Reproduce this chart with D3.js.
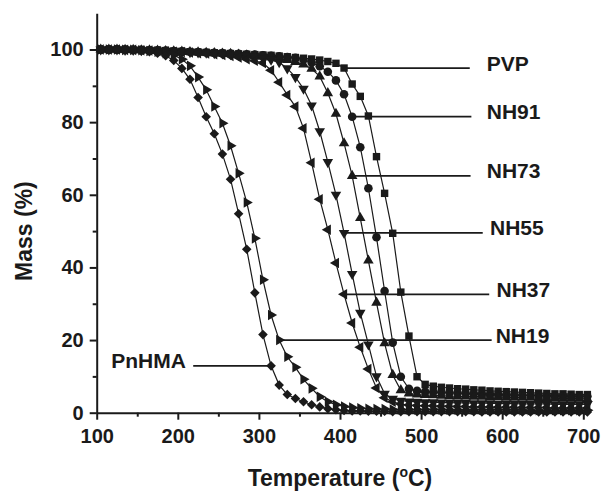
<!DOCTYPE html>
<html>
<head>
<meta charset="utf-8">
<script src="https://cdn.jsdelivr.net/npm/d3@7/dist/d3.min.js"></script>
<style>
body { margin: 0; background: #fff; }
svg text { font-family: "Liberation Sans", Arial, sans-serif; font-weight: bold; fill: #1a1a1a; }
</style>
</head>
<body>
<div id="tga-chart"></div>
<script>
// temperature of every recorded point (°C)
const temps = [
    105, 115, 125, 135, 145, 155, 165, 175, 185, 195,
    205, 215, 225, 235, 245, 255, 265, 275, 285, 295,
    305, 315, 325, 335, 345, 355, 365, 375, 385, 395,
    405, 415, 425, 435, 445, 455, 465, 475, 485, 495,
    505, 515, 525, 535, 545, 555, 565, 575, 585, 595,
    605, 615, 625, 635, 645, 655, 665, 675, 685, 695, 705
];

// mass (%) for each sample
const massPVP = [
    100, 100, 100, 100, 99.9, 99.9, 99.8, 99.8, 99.7, 99.6,
    99.5, 99.4, 99.3, 99.2, 99.1, 99.0, 98.9, 98.8, 98.7, 98.6,
    98.5, 98.4, 98.2, 98.0, 97.8, 97.6, 97.4, 97.1, 96.7, 96.2,
    94.9, 90.5, 87.1, 81.7, 70.5, 60.4, 49.4, 33.2, 21.1, 9.9,
    7.8, 7.3, 7.0, 6.8, 6.6, 6.5, 6.3, 6.2, 6.0, 5.9,
    5.8, 5.7, 5.6, 5.5, 5.4, 5.3, 5.2, 5.2, 5.1, 5.0, 5.0
];
const massNH91 = [
    100, 100, 100, 100, 99.9, 99.9, 99.8, 99.8, 99.7, 99.6,
    99.5, 99.4, 99.3, 99.2, 99.1, 99.0, 98.9, 98.8, 98.7, 98.6,
    98.4, 98.3, 98.1, 97.9, 97.7, 97.2, 96.4, 95.4, 93.9, 91.5,
    87.7, 81.5, 73.1, 61.8, 48.3, 33.5, 19.3, 9.9, 6.6, 6.0,
    5.8, 5.7, 5.6, 5.5, 5.4, 5.3, 5.2, 5.1, 5.0, 5.0,
    4.9, 4.9, 4.8, 4.8, 4.7, 4.7, 4.6, 4.6, 4.5, 4.5, 4.5
];
const massNH73 = [
    100, 100, 100, 99.9, 99.9, 99.8, 99.8, 99.7, 99.6, 99.5,
    99.4, 99.3, 99.2, 99.1, 99.0, 98.9, 98.8, 98.6, 98.4, 98.2,
    98.0, 97.8, 97.5, 97.1, 96.6, 95.9, 94.7, 92.6, 88.0, 82.3,
    74.2, 65.2, 53.6, 41.9, 30.3, 19.1, 10.4, 6.2, 5.3, 5.0,
    4.9, 4.8, 4.7, 4.6, 4.5, 4.5, 4.4, 4.4, 4.3, 4.3,
    4.2, 4.2, 4.1, 4.1, 4.0, 4.0, 4.0, 3.9, 3.9, 3.9, 3.8
];
const massNH55 = [
    100, 100, 100, 99.9, 99.9, 99.8, 99.8, 99.7, 99.6, 99.5,
    99.4, 99.3, 99.2, 99.1, 99.0, 98.9, 98.7, 98.5, 98.3, 98.0,
    97.6, 97.2, 96.5, 94.8, 92.4, 89.2, 84.6, 77.5, 69.0, 60.0,
    49.5, 38.2, 27.5, 18.8, 10.0, 5.2, 3.8, 3.3, 3.1, 3.0,
    2.9, 2.9, 2.8, 2.8, 2.7, 2.7, 2.6, 2.6, 2.6, 2.5,
    2.5, 2.5, 2.4, 2.4, 2.4, 2.4, 2.3, 2.3, 2.3, 2.3, 2.3
];
const massNH37 = [
    100, 100, 100, 99.9, 99.9, 99.8, 99.7, 99.6, 99.5, 99.4,
    99.3, 99.2, 99.0, 98.9, 98.7, 98.5, 98.2, 97.8, 97.3, 96.9,
    96.3, 94.3, 91.0, 87.5, 84.3, 78.3, 68.8, 58.8, 50.4, 41.2,
    32.6, 24.7, 18.0, 12.0, 6.8, 4.1, 3.0, 2.4, 2.1, 2.0,
    1.9, 1.9, 1.8, 1.8, 1.7, 1.7, 1.6, 1.6, 1.6, 1.5,
    1.5, 1.5, 1.4, 1.4, 1.4, 1.4, 1.3, 1.3, 1.3, 1.3, 1.3
];
const massNH19 = [
    100, 100, 100, 99.9, 99.9, 99.8, 99.6, 99.4, 99.0, 98.4,
    97.3, 95.5, 92.4, 88.9, 84.3, 79.7, 73.5, 65.9, 57.9, 48.0,
    36.6, 26.9, 20.0, 15.4, 12.5, 9.2, 6.7, 4.4, 3.0, 2.2,
    1.7, 1.4, 1.2, 1.1, 1.0, 1.0, 0.9, 0.9, 0.9, 0.9,
    0.9, 0.9, 0.9, 0.8, 0.8, 0.8, 0.8, 0.8, 0.8, 0.8,
    0.8, 0.8, 0.7, 0.7, 0.7, 0.7, 0.7, 0.7, 0.7, 0.7, 0.7
];
const massPnHMA = [
    100, 100, 100, 99.9, 99.8, 99.6, 99.4, 99.0, 98.3, 97.0,
    94.8, 91.8, 86.8, 81.5, 76.8, 71.2, 64.3, 54.8, 45.0, 33.0,
    21.5, 12.9, 7.6, 5.0, 3.9, 3.0, 2.2, 1.6, 1.1, 0.8,
    0.6, 0.5, 0.5, 0.4, 0.4, 0.4, 0.3, 0.3, 0.3, 0.3,
    0.3, 0.3, 0.3, 0.3, 0.3, 0.3, 0.3, 0.2, 0.2, 0.2,
    0.2, 0.2, 0.2, 0.2, 0.2, 0.2, 0.2, 0.2, 0.2, 0.2, 0.2
];

const seriesNames = ["PVP", "NH91", "NH73", "NH55", "NH37", "NH19", "PnHMA"];
const seriesMass = [massPVP, massNH91, massNH73, massNH55, massNH37, massNH19, massPnHMA];

const xTicks = [100, 200, 300, 400, 500, 600, 700];
const xMinorTicks = [150, 250, 350, 450, 550, 650];
const yTicks = [0, 20, 40, 60, 80, 100];
const yMinorTicks = [10, 30, 50, 70, 90];

// leader lines: point they start from, where the line stops and where the name sits (°C)
const callouts = [
    { name: "PVP", series: 0, idx: 30, lineTo: 560, labelAt: 581 },
    { name: "NH91", series: 1, idx: 31, lineTo: 562, labelAt: 581 },
    { name: "NH73", series: 2, idx: 31, lineTo: 561, labelAt: 581 },
    { name: "NH55", series: 3, idx: 30, lineTo: 576, labelAt: 585 },
    { name: "NH37", series: 4, idx: 30, lineTo: 584, labelAt: 593 },
    { name: "NH19", series: 5, idx: 22, lineTo: 587, labelAt: 592 },
    { name: "PnHMA", series: 6, idx: 21, lineTo: 219, labelAt: 210 }
];

const ink = "#1a1a1a";

// one marker shape per series, like the Origin defaults
const markers = [
    { type: d3.symbolSquare, size: 55, rot: 0 },
    { type: d3.symbolCircle, size: 58, rot: 0 },
    { type: d3.symbolTriangle, size: 48, rot: 0 },
    { type: d3.symbolTriangle, size: 48, rot: 180 },
    { type: d3.symbolTriangle, size: 48, rot: -90 },
    { type: d3.symbolTriangle, size: 48, rot: 90 },
    { type: d3.symbolSquare, size: 46, rot: 45 }
];

function drawChart() {
    let width = 610, height = 491;

    let svg = d3.select("#tga-chart").
    append("svg").
    attr("width", width).
    attr("height", height);

    let xScale = d3.scaleLinear().
    domain([100, 700]).
    range([96.7, 583.3]);

    let yScale = d3.scaleLinear().
    domain([0, 110]).
    range([412.7, 13.2]);

    // axes
    svg.append("g").
    attr("transform", "translate(0," + yScale(0) + ")").
    call(d3.axisBottom(xScale).
    tickValues(xTicks).
    tickSize(7).
    tickSizeOuter(0).
    tickPadding(9));

    svg.append("g").
    attr("transform", "translate(0," + yScale(0) + ")").
    call(d3.axisBottom(xScale).
    tickValues(xMinorTicks).
    tickSize(4).
    tickSizeOuter(0).
    tickFormat("")).
    select(".domain").remove();

    svg.append("g").
    attr("transform", "translate(" + xScale(100) + ",0)").
    call(d3.axisLeft(yScale).
    tickValues(yTicks).
    tickSize(7).
    tickSizeOuter(0).
    tickPadding(6));

    svg.append("g").
    attr("transform", "translate(" + xScale(100) + ",0)").
    call(d3.axisLeft(yScale).
    tickValues(yMinorTicks).
    tickSize(4).
    tickSizeOuter(0).
    tickFormat("")).
    select(".domain").remove();

    svg.selectAll(".domain, .tick line").
    attr("stroke", ink).
    attr("stroke-width", 2);

    svg.selectAll(".tick text").
    attr("fill", ink).
    style("font-size", "20px").
    style("font-family", "'Liberation Sans', Arial, sans-serif").
    style("font-weight", "bold");

    // axis titles
    let xTitle = svg.append("text").
    attr("x", (xScale(100) + xScale(700)) / 2).
    attr("y", 486).
    attr("text-anchor", "middle").
    style("font-size", "23px");
    xTitle.append("tspan").text("Temperature (");
    xTitle.append("tspan").
    attr("dy", -9).
    style("font-size", "14px").
    text("o");
    xTitle.append("tspan").
    attr("dy", 9).
    text("C)");

    svg.append("text").
    attr("transform", "translate(32," + yScale(50) + ") rotate(-90)").
    attr("text-anchor", "middle").
    style("font-size", "23px").
    text("Mass (%)");

    // curves
    let line = d3.line().
    x((d, i) => xScale(temps[i])).
    y(d => yScale(d));

    seriesMass.forEach((mass, s) => {
        let g = svg.append("g").attr("class", "series-" + seriesNames[s]);

        g.append("path").
        datum(mass).
        attr("d", line).
        attr("fill", "none").
        attr("stroke", ink).
        attr("stroke-width", 1.2);

        let m = markers[s];
        g.selectAll("path.pt").
        data(mass).
        enter().
        append("path").
        attr("class", "pt").
        attr("d", d3.symbol().type(m.type).size(m.size)).
        attr("transform", (d, i) => "translate(" + xScale(temps[i]) + "," + yScale(d) + ") rotate(" + m.rot + ")").
        attr("fill", ink);
    });

    // leader lines + names
    callouts.forEach(c => {
        let x0 = xScale(temps[c.idx]);
        let y0 = yScale(seriesMass[c.series][c.idx]);

        svg.append("line").
        attr("x1", x0).
        attr("x2", xScale(c.lineTo)).
        attr("y1", y0).
        attr("y2", y0).
        attr("stroke", ink).
        attr("stroke-width", 1.8);

        svg.append("text").
        attr("x", xScale(c.labelAt)).
        attr("y", y0 + 2.5).
        attr("text-anchor", c.labelAt < temps[c.idx] ? "end" : "start").
        style("font-size", "21px").
        text(c.name);
    });
}

drawChart();
</script>
</body>
</html>
